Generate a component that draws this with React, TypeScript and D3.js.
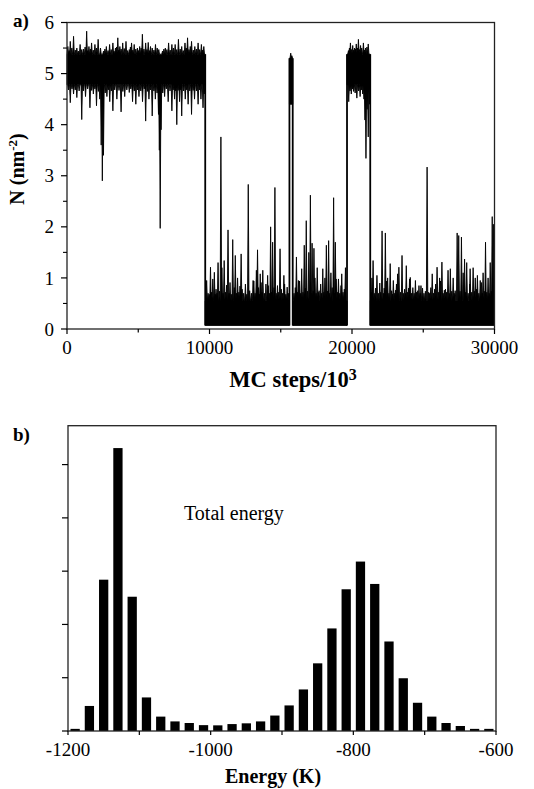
import React from "react";
import * as d3 from "d3";

const W = 534;
const H = 789;

// ---------- Panel a: N vs MC steps ----------
const stepTicks = [0, 5000, 10000, 15000, 20000, 25000, 30000];
const stepTickLabels = ["0", "", "10000", "", "20000", "", "30000"];
const nMajorTicks = [0, 1, 2, 3, 4, 5, 6];
const nMinorTicks = [0.5, 1.5, 2.5, 3.5, 4.5, 5.5];

// state segments of the trace (core band of the noise)
const segStart = [0, 9700, 15610, 15840, 19650, 21280];
const segEnd = [9700, 15610, 15840, 19650, 21280, 30000];
const segLow = [4.78, 0.07, 4.4, 0.07, 4.78, 0.07];
const segHigh = [5.38, 0.55, 5.3, 0.55, 5.38, 0.55];

// excursions above the core band: [MC step, N]
const upSpikes: [number, number][] = [
  // first high state
  [60, 5.53], [150, 5.45], [230, 5.63], [340, 5.5], [460, 5.73], [580, 5.46], [690, 5.5],
  [800, 5.44], [920, 5.57], [1030, 5.47], [1150, 5.48], [1270, 5.52], [1380, 5.83],
  [1460, 5.45], [1540, 5.53], [1640, 5.48], [1725, 5.6], [1840, 5.46], [1960, 5.57],
  [2070, 5.5], [2185, 5.67], [2350, 5.5], [2560, 5.44], [2660, 5.48], [2760, 5.53],
  [2880, 5.45], [2990, 5.57], [3100, 5.47], [3220, 5.6], [3300, 5.44], [3400, 5.5],
  [3480, 5.52], [3565, 5.7], [3640, 5.46], [3710, 5.53], [3800, 5.48], [3910, 5.6],
  [4020, 5.49], [4140, 5.63], [4250, 5.45], [4370, 5.47], [4450, 5.52], [4530, 5.6],
  [4620, 5.46], [4715, 5.57], [4830, 5.48], [4940, 5.5], [5020, 5.45], [5100, 5.53],
  [5200, 5.5], [5290, 5.77], [5400, 5.48], [5520, 5.6], [5610, 5.47], [5700, 5.61],
  [5780, 5.45], [5860, 5.53], [5980, 5.5], [6100, 5.46], [6210, 5.57], [6330, 5.5],
  [6440, 5.47], [6700, 5.44], [6800, 5.48], [6900, 5.5], [7010, 5.47], [7130, 5.6],
  [7240, 5.46], [7360, 5.57], [7470, 5.5], [7590, 5.57], [7700, 5.47], [7820, 5.67],
  [7940, 5.48], [8050, 5.53], [8160, 5.45], [8280, 5.6], [8370, 5.5], [8460, 5.7],
  [8560, 5.47], [8650, 5.53], [8740, 5.63], [8860, 5.46], [8970, 5.53], [9080, 5.48],
  [9200, 5.6], [9310, 5.47], [9430, 5.57], [9520, 5.46], [9600, 5.53],
  // first low state
  [9800, 0.95], [9900, 0.7], [9980, 0.68], [10070, 1.21], [10150, 0.72], [10230, 0.98],
  [10340, 1.11], [10400, 0.68], [10460, 0.78], [10530, 0.7], [10600, 1.3], [10700, 0.74],
  [10800, 3.76], [10870, 1.2], [10950, 0.7], [11030, 1.34], [11120, 0.72], [11200, 0.86],
  [11300, 1.94], [11370, 0.7], [11440, 0.91], [11530, 0.68], [11630, 1.75], [11740, 0.81],
  [11810, 1.44], [11890, 0.7], [11970, 1.0], [12060, 0.72], [12140, 0.84], [12220, 1.47],
  [12290, 0.78], [12400, 0.7], [12520, 0.88], [12620, 0.68], [12720, 2.83], [12820, 0.75],
  [12940, 0.7], [13060, 0.95], [13110, 0.94], [13200, 0.7], [13290, 1.15], [13370, 1.55],
  [13440, 0.81], [13500, 0.68], [13560, 1.08], [13620, 0.91], [13690, 0.72], [13740, 1.15],
  [13850, 0.7], [13960, 0.88], [14080, 1.05], [14120, 0.85], [14200, 0.7], [14290, 2.0],
  [14360, 0.72], [14430, 1.7], [14530, 0.81], [14590, 2.77], [14680, 0.7], [14770, 0.85],
  [14860, 0.72], [14950, 1.57], [15040, 0.78], [15130, 0.7], [15220, 1.05], [15270, 0.88],
  [15360, 0.68], [15450, 0.82], [15530, 0.7],
  // excursion
  [15700, 5.4], [15780, 5.35],
  // second low state
  [15930, 0.7], [16020, 0.81], [16100, 1.41], [16170, 0.72], [16240, 0.95], [16320, 0.94],
  [16400, 0.7], [16470, 1.18], [16560, 0.72], [16650, 1.64], [16720, 0.8], [16790, 2.12],
  [16880, 0.74], [16970, 1.5], [17080, 2.62], [17140, 0.7], [17200, 1.68], [17270, 0.75],
  [17330, 1.58], [17400, 1.0], [17480, 0.7], [17560, 1.2], [17630, 0.72], [17690, 0.75],
  [17800, 0.88], [17870, 0.7], [17950, 1.18], [18030, 0.72], [18100, 1.0], [18200, 1.64],
  [18280, 0.74], [18360, 1.73], [18440, 0.7], [18520, 1.1], [18610, 0.81], [18710, 2.57],
  [18770, 0.7], [18830, 1.7], [18890, 0.98], [18970, 0.72], [19050, 0.98], [19140, 0.7],
  [19230, 0.85], [19280, 1.08], [19370, 0.72], [19460, 0.78], [19540, 1.2], [19600, 0.8],
  // second high state
  [19750, 5.45], [19820, 5.5], [19890, 5.6], [19970, 5.47], [20050, 5.55], [20120, 5.46],
  [20180, 5.5], [20240, 5.48], [20300, 5.58], [20380, 5.5], [20450, 5.67], [20520, 5.47],
  [20600, 5.55], [20680, 5.5], [20800, 5.6], [20880, 5.46], [20950, 5.5], [21050, 5.52],
  [21140, 5.58], [21230, 5.5],
  // last low state
  [21340, 0.72], [21400, 1.0], [21480, 1.34], [21560, 0.7], [21650, 0.8], [21750, 1.05],
  [21850, 0.7], [21950, 0.9], [22020, 0.72], [22110, 1.92], [22200, 0.7], [22260, 0.8],
  [22340, 1.88], [22430, 0.94], [22500, 1.0], [22590, 0.7], [22680, 1.28], [22780, 0.75],
  [22840, 0.68], [22900, 0.95], [23000, 0.7], [23050, 0.76], [23120, 0.88], [23200, 1.08],
  [23290, 1.21], [23400, 0.72], [23510, 1.44], [23600, 0.7], [23690, 0.78], [23760, 0.7],
  [23810, 1.24], [23900, 0.72], [23970, 0.8], [24040, 0.98], [24090, 1.01], [24180, 0.7],
  [24270, 0.81], [24360, 0.7], [24450, 0.95], [24530, 0.72], [24610, 0.75], [24700, 0.85],
  [24780, 0.7], [24840, 0.85], [24950, 0.8], [25050, 0.7], [25150, 0.74], [25270, 3.17],
  [25380, 0.72], [25450, 0.7], [25530, 0.81], [25630, 1.08], [25720, 0.7], [25800, 0.78],
  [25870, 0.88], [25970, 1.21], [26060, 0.72], [26150, 1.0], [26210, 0.94], [26310, 1.31],
  [26400, 0.7], [26480, 0.76], [26560, 0.78], [26640, 0.72], [26740, 1.15], [26820, 0.7],
  [26900, 1.18], [27000, 0.74], [27100, 1.0], [27170, 0.7], [27240, 0.75], [27380, 1.88],
  [27490, 1.83], [27580, 0.74], [27680, 1.8], [27800, 1.1], [27900, 1.37], [27980, 0.72],
  [28050, 1.3], [28150, 0.7], [28270, 0.88], [28290, 1.18], [28400, 0.72], [28500, 1.2],
  [28580, 0.74], [28650, 1.0], [28730, 0.78], [28800, 1.05], [28900, 0.7], [29000, 0.95],
  [29080, 0.91], [29140, 0.7], [29200, 1.1], [29280, 0.74], [29370, 1.7], [29460, 0.72],
  [29550, 1.0], [29620, 0.7], [29700, 1.3], [29770, 0.74], [29840, 2.2], [29920, 2.05],
];

// excursions below the core band: [MC step, N]
const downSpikes: [number, number][] = [
  [100, 4.68], [230, 4.43], [350, 4.7], [460, 4.6], [580, 4.68], [690, 4.53], [850, 4.66],
  [1035, 4.1], [1150, 4.66], [1300, 4.55], [1450, 4.7], [1610, 4.33], [1730, 4.67],
  [1850, 4.6], [1960, 4.7], [2070, 4.37], [2200, 4.65], [2300, 4.5], [2400, 3.6],
  [2480, 2.9], [2560, 3.4], [2680, 4.62], [2800, 4.55], [2900, 4.68], [3000, 4.45],
  [3110, 4.66], [3220, 4.27], [3350, 4.68], [3500, 4.5], [3650, 4.67], [3795, 4.25],
  [3920, 4.65], [4050, 4.55], [4200, 4.68], [4370, 4.63], [4480, 4.7], [4600, 4.45],
  [4720, 4.66], [4830, 4.4], [4950, 4.68], [5050, 4.55], [5180, 4.66], [5300, 4.45],
  [5420, 4.7], [5520, 4.07], [5640, 4.65], [5750, 4.5], [5860, 4.68], [5980, 4.17],
  [6100, 4.66], [6200, 4.5], [6320, 4.62], [6420, 4.2], [6480, 3.5], [6540, 1.97],
  [6600, 3.9], [6720, 4.62], [6850, 4.55], [6970, 4.7], [7100, 4.45], [7230, 4.66],
  [7360, 4.27], [7450, 4.68], [7550, 4.5], [7630, 4.66], [7705, 4.0], [7800, 4.67],
  [7900, 4.45], [7980, 4.68], [8050, 4.17], [8180, 4.66], [8300, 4.5], [8400, 4.68],
  [8500, 4.4], [8620, 4.66], [8740, 4.2], [8850, 4.67], [8950, 4.5], [9080, 4.66],
  [9200, 4.4], [9300, 4.68], [9400, 4.5], [9545, 4.33], [9630, 4.6],
  [19770, 4.45], [19860, 4.66], [19950, 4.6], [20030, 4.7], [20110, 4.65], [20220, 4.62],
  [20340, 4.52], [20460, 4.66], [20570, 4.55], [20660, 4.68], [20750, 4.6], [20840, 4.5],
  [20910, 4.09], [20980, 3.34], [21060, 4.3], [21140, 3.76], [21220, 4.4],
];

// ---------- Panel b: energy histogram ----------
const energyBins = [
  -1190, -1170, -1150, -1130, -1110, -1090, -1070, -1050, -1030, -1010,
  -990, -970, -950, -930, -910, -890, -870, -850, -830, -810,
  -790, -770, -750, -730, -710, -690, -670, -650, -630, -610,
];
const energyCounts = [
  0.04, 0.47, 2.84, 5.31, 2.52, 0.63, 0.27, 0.18, 0.15, 0.11,
  0.106, 0.13, 0.144, 0.18, 0.29, 0.48, 0.78, 1.27, 1.925, 2.66,
  3.18, 2.76, 1.68, 0.99, 0.53, 0.27, 0.15, 0.094, 0.04, 0.04,
];
const energyTicks = [-1200, -1100, -1000, -900, -800, -700, -600];
const energyTickLabels = ["-1200", "", "-1000", "", "-800", "", "-600"];
const countTicks = [0, 1, 2, 3, 4, 5];
const energyAxisMax = 5.73;
const binWidth = 20;

const FONT = "Liberation Serif, Times New Roman, serif";

export default function App() {
  // panel a scales
  const xA = d3.scaleLinear().domain([0, 30000]).range([67, 494.5]);
  const yA = d3.scaleLinear().domain([0, 6]).range([329, 22.5]);
  // panel b scales
  const xB = d3.scaleLinear().domain([-1200, -600]).range([68, 496]);
  const yB = d3.scaleLinear().domain([0, energyAxisMax]).range([731, 425.7]);

  const line = d3.line<[number, number]>().x((d) => xA(d[0])).y((d) => yA(d[1]));
  const hw = 50;

  const bands = segStart.map((s0, i) => {
    const s1 = segEnd[i];
    const hi = segHigh[i];
    const lo = segLow[i];
    const ups = upSpikes.filter(([s]) => s > s0 + hw && s < s1 - hw).sort((a, b) => a[0] - b[0]);
    const downs = downSpikes.filter(([s]) => s > s0 + hw && s < s1 - hw).sort((a, b) => b[0] - a[0]);
    const pts: [number, number][] = [[s0, hi]];
    ups.forEach(([s, v]) => {
      pts.push([s - hw, hi], [s, v], [s + hw, hi]);
    });
    pts.push([s1, hi], [s1, lo]);
    downs.forEach(([s, v]) => {
      pts.push([s + hw, lo], [s, v], [s - hw, lo]);
    });
    pts.push([s0, lo]);
    return line(pts) + "Z";
  });

  const transitions = segStart.slice(1).map((s, k) => {
    const i = k + 1;
    const bottom = Math.min(segLow[i - 1], segLow[i]);
    const top = Math.max(segHigh[i - 1], segHigh[i]);
    return { s, bottom, top };
  });

  const barW = xB(-1200 + binWidth * 0.65) - xB(-1200);
  const tf = { fontFamily: FONT };

  return (
    <svg
      width={W}
      height={H}
      viewBox={`0 0 ${W} ${H}`}
      style={{ position: "absolute", left: 0, top: 0, background: "#fff", fontFamily: FONT }}
    >
      <rect x={0} y={0} width={W} height={H} fill="#fff" />
      {/* ---------- Panel a ---------- */}
      <g>
        {bands.map((d, i) => (
          <path key={i} d={d} fill="#000" stroke="#000" strokeWidth={0.9} strokeLinejoin="bevel" />
        ))}
        {transitions.map((t, i) => (
          <line
            key={i}
            x1={xA(t.s)}
            x2={xA(t.s)}
            y1={yA(t.bottom)}
            y2={yA(t.top)}
            stroke="#000"
            strokeWidth={1.8}
          />
        ))}
        <rect
          x={xA(0)}
          y={yA(6)}
          width={xA(30000) - xA(0)}
          height={yA(0) - yA(6)}
          fill="none"
          stroke="#222"
          strokeWidth={1.3}
        />
        {nMajorTicks.map((t) => (
          <g key={t}>
            <line x1={xA(0) - 6} x2={xA(0)} y1={yA(t)} y2={yA(t)} stroke="#000" strokeWidth={1.2} />
            <text x={xA(0) - 13} y={yA(t)} dy="0.35em" textAnchor="end" fontSize={19} style={tf}>
              {t}
            </text>
          </g>
        ))}
        {nMinorTicks.map((t) => (
          <line key={t} x1={xA(0) - 4} x2={xA(0)} y1={yA(t)} y2={yA(t)} stroke="#000" strokeWidth={1.1} />
        ))}
        {stepTicks.map((t, i) => (
          <g key={t}>
            <line
              x1={xA(t)}
              x2={xA(t)}
              y1={yA(0)}
              y2={yA(0) + (stepTickLabels[i] ? 5 : 3.5)}
              stroke="#000"
              strokeWidth={1.2}
            />
            {stepTickLabels[i] && (
              <text x={xA(t)} y={354} textAnchor="middle" fontSize={19} style={tf}>
                {stepTickLabels[i]}
              </text>
            )}
          </g>
        ))}
        <text x={293} y={387} textAnchor="middle" fontSize={22.5} fontWeight="bold" style={tf}>
          MC steps/10
          <tspan fontSize={16} dy={-7}>
            3
          </tspan>
        </text>
        <text
          transform="translate(24,169) rotate(-90)"
          textAnchor="middle"
          fontSize={20}
          fontWeight="bold"
          style={tf}
        >
          N (nm
          <tspan fontSize={13} dy={-7}>
            -2
          </tspan>
          <tspan dy={7}>)</tspan>
        </text>
        <text x={13} y={27} fontSize={19} fontWeight="bold" style={tf}>
          a)
        </text>
      </g>

      {/* ---------- Panel b ---------- */}
      <g>
        {energyBins.map((e, i) => (
          <rect
            key={e}
            x={xB(e) - barW / 2}
            y={yB(energyCounts[i])}
            width={barW}
            height={yB(0) - yB(energyCounts[i])}
            fill="#000"
          />
        ))}
        <rect
          x={xB(-1200)}
          y={yB(energyAxisMax)}
          width={xB(-600) - xB(-1200)}
          height={yB(0) - yB(energyAxisMax)}
          fill="none"
          stroke="#222"
          strokeWidth={1.3}
        />
        {countTicks.map((t) => (
          <line key={t} x1={xB(-1200) - 6} x2={xB(-1200)} y1={yB(t)} y2={yB(t)} stroke="#000" strokeWidth={1.2} />
        ))}
        {energyTicks.map((t, i) => (
          <g key={t}>
            <line x1={xB(t)} x2={xB(t)} y1={yB(0)} y2={yB(0) + 4} stroke="#000" strokeWidth={1.2} />
            {energyTickLabels[i] && (
              <text x={xB(t)} y={756} textAnchor="middle" fontSize={19} style={tf}>
                {energyTickLabels[i]}
              </text>
            )}
          </g>
        ))}
        <text x={273} y={783} textAnchor="middle" fontSize={20} fontWeight="bold" style={tf}>
          Energy (K)
        </text>
        <text x={184} y={520} fontSize={20} style={tf}>
          Total energy
        </text>
        <text x={13} y={441} fontSize={19} fontWeight="bold" style={tf}>
          b)
        </text>
      </g>
    </svg>
  );
}
